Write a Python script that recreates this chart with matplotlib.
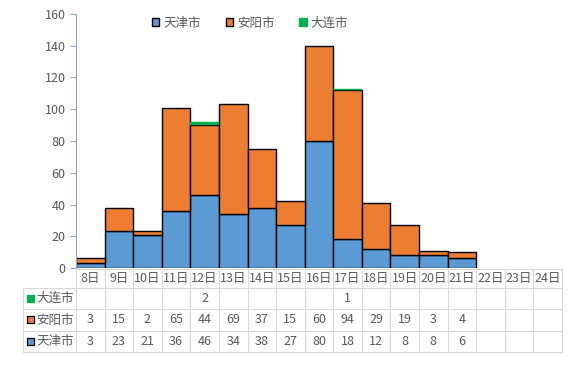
import matplotlib
matplotlib.use("Agg")
import matplotlib.pyplot as plt
from matplotlib.patches import Rectangle, Patch
import numpy as np

plt.rcParams['font.family'] = ['Noto Sans CJK SC', 'DejaVu Sans']

categories = ['8日', '9日', '10日', '11日', '12日', '13日', '14日', '15日', '16日',
              '17日', '18日', '19日', '20日', '21日', '22日', '23日', '24日']
tianjin = [3, 23, 21, 36, 46, 34, 38, 27, 80, 18, 12, 8, 8, 6, None, None, None]
anyang = [3, 15, 2, 65, 44, 69, 37, 15, 60, 94, 29, 19, 3, 4, None, None, None]
dalian = [None, None, None, None, 2, None, None, None, None, 1, None, None, None, None, None, None, None]
series_names = ['天津市', '安阳市', '大连市']
yticks = [0, 20, 40, 60, 80, 100, 120, 140, 160]

c_blue = '#5B9BD5'
c_orange = '#ED7D31'
c_green = '#00B050'
txt = '#595959'
grid_c = '#D9D9D9'

W, H = 576, 388
fig = plt.figure(figsize=(W / 100, H / 100), dpi=100)

L, R, T, B = 76, 562, 14, 268
ax = fig.add_axes([L / W, 1 - B / H, (R - L) / W, (B - T) / H])
n = len(categories)
tj = np.array([v if v is not None else 0 for v in tianjin], dtype=float)
ay = np.array([v if v is not None else 0 for v in anyang], dtype=float)
dl = np.array([v if v is not None else 0 for v in dalian], dtype=float)

idx = [i for i in range(n) if tianjin[i] is not None]
ax.bar(idx, tj[idx], width=1.0, color=c_blue, edgecolor='black', linewidth=1.0)
idx = [i for i in range(n) if anyang[i] is not None]
ax.bar(idx, ay[idx], width=1.0, bottom=tj[idx], color=c_orange, edgecolor='black', linewidth=1.0)
idx = [i for i in range(n) if dalian[i] is not None]
ax.bar(idx, dl[idx], width=1.0, bottom=(tj + ay)[idx], color=c_green, edgecolor=c_green, linewidth=0.3)

ax.set_xlim(-0.5, n - 0.5)
ax.set_ylim(0, 160)
ax.set_yticks(yticks)
ax.set_xticks([])
for s in ['top', 'right', 'bottom']:
    ax.spines[s].set_visible(False)
ax.spines['left'].set_color('#8FAACC')
ax.tick_params(axis='y', colors='#8FAACC', labelcolor=txt, labelsize=9, length=4, direction='out')

handles = [Patch(facecolor=c_blue, edgecolor='black', linewidth=1.0),
           Patch(facecolor=c_orange, edgecolor='black', linewidth=1.0),
           Patch(facecolor=c_green, edgecolor=c_green)]
fig.legend(handles, series_names, loc='center', bbox_to_anchor=(250 / W, 1 - 23 / H),
           ncol=3, frameon=False, fontsize=9, labelcolor=txt, handlelength=0.6,
           handleheight=0.6, handletextpad=0.3, columnspacing=2.0)

TL, TT, TB = 23, 269, 352
cw = (R - L) / n
lab_w = (L - TL) / cw
tax = fig.add_axes([TL / W, 1 - TB / H, (R - TL) / W, (TB - TT) / H])
tax.set_xlim(-0.5 - lab_w, n - 0.5)
tax.set_ylim(TB, TT)
tax.axis('off')

rows_y = [269, 288, 309, 331, 352]
lw = 0.8
tax.plot([-0.5, n - 0.5], [rows_y[0]] * 2, color=grid_c, lw=lw, clip_on=False)
for yy in rows_y[1:]:
    tax.plot([-0.5 - lab_w, n - 0.5], [yy, yy], color=grid_c, lw=lw, clip_on=False)
tax.plot([-0.5 - lab_w] * 2, [rows_y[1], rows_y[-1]], color=grid_c, lw=lw, clip_on=False)
for i in range(n + 1):
    tax.plot([-0.5 + i] * 2, [rows_y[0], rows_y[-1]], color=grid_c, lw=lw, clip_on=False)

fs = 9
for i, c in enumerate(categories):
    tax.text(i, (rows_y[0] + rows_y[1]) / 2, c, ha='center', va='center', fontsize=fs, color=txt)

table_rows = [(series_names[2], dalian, c_green, c_green),
              (series_names[1], anyang, c_orange, 'black'),
              (series_names[0], tianjin, c_blue, 'black')]
for r, (name, vals, fc, ec) in enumerate(table_rows):
    yc = (rows_y[r + 1] + rows_y[r + 2]) / 2
    mx = -0.5 - lab_w + 4 / cw
    tax.add_patch(Rectangle((mx, yc - 3.5), 7 / cw, 7, facecolor=fc, edgecolor=ec, lw=0.9, clip_on=False))
    tax.text(-0.5 - lab_w + 13 / cw, yc, name, ha='left', va='center', fontsize=9, color=txt)
    for i, v in enumerate(vals):
        if v is not None:
            tax.text(i, yc, str(v), ha='center', va='center', fontsize=fs, color=txt)

fig.savefig('out.png', dpi=100)
